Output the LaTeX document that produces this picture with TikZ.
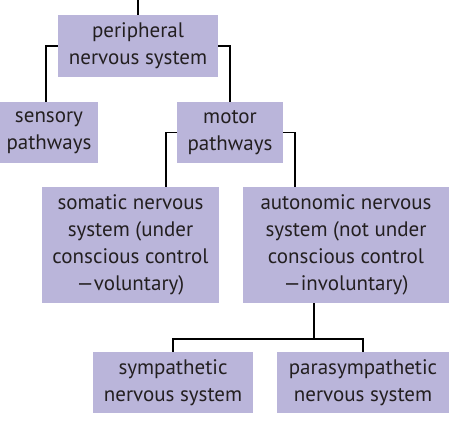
\documentclass[tikz,border=0pt]{standalone}
\usepackage{fontspec}
\setmainfont{PT Sans}
\definecolor{boxfill}{HTML}{BAB5DA}
\definecolor{txt}{HTML}{231F20}
\begin{document}
\begin{tikzpicture}[x=1pt,y=-1pt,
  box/.style={fill=boxfill,inner sep=0pt,align=center,text=txt,
    font=\fontsize{21}{27}\selectfont},
  link/.style={draw=black,line width=1.4pt}]
\useasboundingbox (0,0) rectangle (468,426);
\node[box,minimum width=160pt,minimum height=62pt] (pns) at (138,46) {peripheral\\nervous system};
\node[box,minimum width=98pt,minimum height=61pt] (sens) at (49,132.5) {sensory\\pathways};
\node[box,minimum width=106pt,minimum height=61pt] (mot) at (230,132.5) {motor\\pathways};
\node[box,minimum width=177pt,minimum height=116pt] (som) at (130.5,245) {somatic nervous\\system (under\\conscious control\\—voluntary)};
\node[box,minimum width=206pt,minimum height=116pt] (aut) at (346,245) {autonomic nervous\\system (not under\\conscious control\\—involuntary)};
\node[box,minimum width=160pt,minimum height=61pt] (sym) at (173,382.5) {sympathetic\\nervous system};
\node[box,minimum width=172pt,minimum height=61pt] (par) at (363,382.5) {parasympathetic\\nervous system};
\coordinate (top) at (138,0);
\draw[link] (top) -- (pns.north);
\draw[link] (pns.west) -| ([xshift=-3pt]sens.north);
\draw[link] (pns.east) -| (mot.north);
\draw[link] (mot.west) -| ([xshift=35.5pt]som.north);
\draw[link] (mot.east) -| ([xshift=-51pt]aut.north);
\draw[link] ([xshift=-32pt]aut.south) -- ([xshift=-32pt,yshift=-36pt]aut.south);
\draw[link] (sym.north) -- ++(0,-13) -| (par.north);
\end{tikzpicture}
\end{document}
